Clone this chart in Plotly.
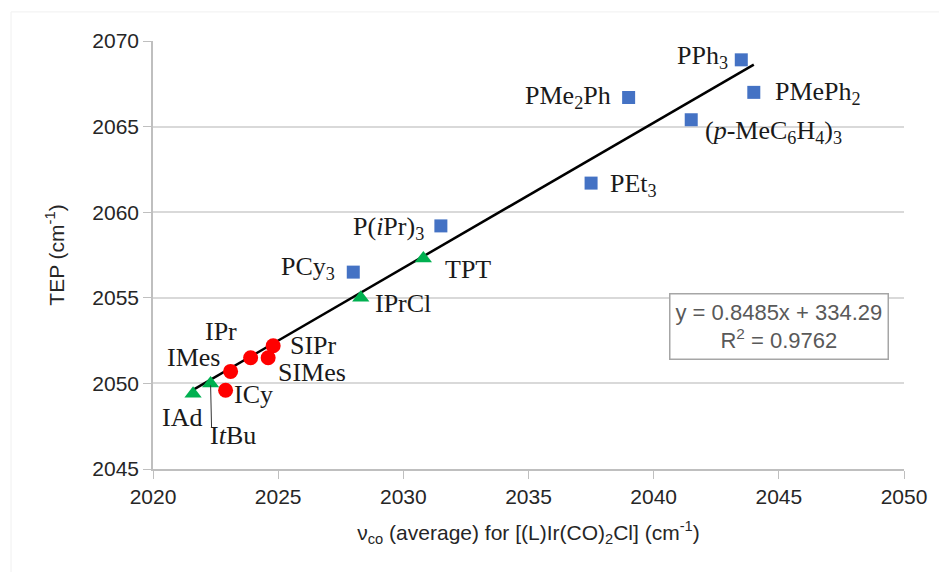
import plotly.graph_objects as go

# ---- data ----
phos_names = ["PPh<sub>3</sub>", "PMePh<sub>2</sub>", "PMe<sub>2</sub>Ph", "(<i>p</i>-MeC<sub>6</sub>H<sub>4</sub>)<sub>3</sub>",
              "PEt<sub>3</sub>", "P(<i>i</i>Pr)<sub>3</sub>", "PCy<sub>3</sub>"]
phos_x = [2043.5, 2044.0, 2039.0, 2041.5, 2037.5, 2031.5, 2028.0]
phos_y = [2068.9, 2067.0, 2066.7, 2065.4, 2061.7, 2059.2, 2056.5]

tri_names = ["TPT", "IPrCl", "IAd", "I<i>t</i>Bu"]
tri_x = [2030.8, 2028.3, 2021.6, 2022.3]
tri_y = [2057.3, 2055.0, 2049.4, 2050.0]

nhc_names = ["IMes", "ICy", "IPr", "SIMes", "SIPr"]
nhc_x = [2023.1, 2022.9, 2023.9, 2024.6, 2024.8]
nhc_y = [2050.7, 2049.6, 2051.5, 2051.5, 2052.2]

slope = 0.8485
intercept = 334.29
r2 = 0.9762

x_ticks = [2020, 2025, 2030, 2035, 2040, 2045, 2050]
y_ticks = [2045, 2050, 2055, 2060, 2065, 2070]

# ---- label pixel offsets (style) ----
offsets = {
    "PPh<sub>3</sub>": (-39, 3),
    "PMePh<sub>2</sub>": (64, -1),
    "PMe<sub>2</sub>Ph": (-61, 1),
    "(<i>p</i>-MeC<sub>6</sub>H<sub>4</sub>)<sub>3</sub>": (82, -12),
    "PEt<sub>3</sub>": (42, -2),
    "P(<i>i</i>Pr)<sub>3</sub>": (-52, -2),
    "PCy<sub>3</sub>": (-45, 4),
    "TPT": (45, -11),
    "IPrCl": (42, -6),
    "IAd": (-11, -24),
    "I<i>t</i>Bu": (22, -52),
    "IMes": (-37, 14),
    "ICy": (28, -4),
    "IPr": (-30, 26),
    "SIMes": (44, -15),
    "SIPr": (40, 0),
}

fig = go.Figure()

all_x = phos_x + tri_x + nhc_x
x0, x1 = min(all_x), max(all_x)
fig.add_trace(go.Scatter(x=[x0, x1], y=[slope * x0 + intercept, slope * x1 + intercept],
                         mode="lines", line=dict(color="black", width=2.5), hoverinfo="skip"))

fig.add_trace(go.Scatter(x=phos_x, y=phos_y, mode="markers",
                         marker=dict(symbol="square", size=13, color="#4472C4")))
fig.add_trace(go.Scatter(x=tri_x, y=tri_y, mode="markers",
                         marker=dict(symbol="triangle-up", size=15, color="#00B050")))
fig.add_trace(go.Scatter(x=nhc_x, y=nhc_y, mode="markers",
                         marker=dict(symbol="circle", size=15, color="#FF0000")))

serif = dict(family="Liberation Serif, Times New Roman, serif", size=26, color="#1a1a1a")
for names, xs, ys in [(phos_names, phos_x, phos_y), (tri_names, tri_x, tri_y), (nhc_names, nhc_x, nhc_y)]:
    for n, xv, yv in zip(names, xs, ys):
        dx, dy = offsets[n]
        fig.add_annotation(x=xv, y=yv, text=n, showarrow=False, xshift=dx, yshift=dy,
                           font=serif, xanchor="center", yanchor="middle")

# leader line for ItBu
i = tri_names.index("I<i>t</i>Bu")
fig.add_annotation(x=tri_x[i], y=tri_y[i], text="", showarrow=True, arrowhead=0,
                   arrowwidth=1, arrowcolor="#333333", ax=1, ay=46, standoff=2)

# equation box
fig.add_annotation(xref="paper", yref="paper", x=0.687, y=0.334, xanchor="left", yanchor="middle",
                   text=f"y = {slope}x + {intercept}<br>R<sup>2</sup> = {r2}", showarrow=False,
                   font=dict(family="Liberation Sans, Arial, sans-serif", size=22, color="#595959"),
                   bordercolor="#a6a6a6", borderwidth=1.5, bgcolor="white", borderpad=5,
                   align="center")

axis_font = dict(family="Liberation Sans, Arial, sans-serif", size=21, color="#262626")
fig.update_xaxes(range=[2020, 2050], tickvals=x_ticks, showgrid=False, zeroline=False,
                 showline=True, linecolor="#bfbfbf", linewidth=1.5,
                 ticks="outside", ticklen=8, tickcolor="#bfbfbf", tickfont=axis_font,
                 title=dict(text="ν<sub>co</sub> (average) for [(L)Ir(CO)<sub>2</sub>Cl] (cm<sup>-1</sup>)",
                            font=axis_font, standoff=18))
fig.update_yaxes(range=[2045, 2070], tickvals=y_ticks, showgrid=True, gridcolor="#d9d9d9", gridwidth=1.5,
                 zeroline=False, showline=True, linecolor="#bfbfbf", linewidth=1.5,
                 ticks="outside", ticklen=8, tickcolor="#bfbfbf", tickfont=axis_font,
                 title=dict(text="TEP (cm<sup>-1</sup>)", font=axis_font, standoff=22))

fig.add_shape(type="rect", xref="paper", yref="paper", x0=-0.189, y0=-0.3, x1=1.1, y1=1.068,
              line=dict(color="#f0f0f0", width=1))

fig.update_layout(width=931, height=564, margin=dict(l=145, r=28, t=33, b=103),
                  plot_bgcolor="white", paper_bgcolor="white", showlegend=False)

fig.write_html("out.html")
